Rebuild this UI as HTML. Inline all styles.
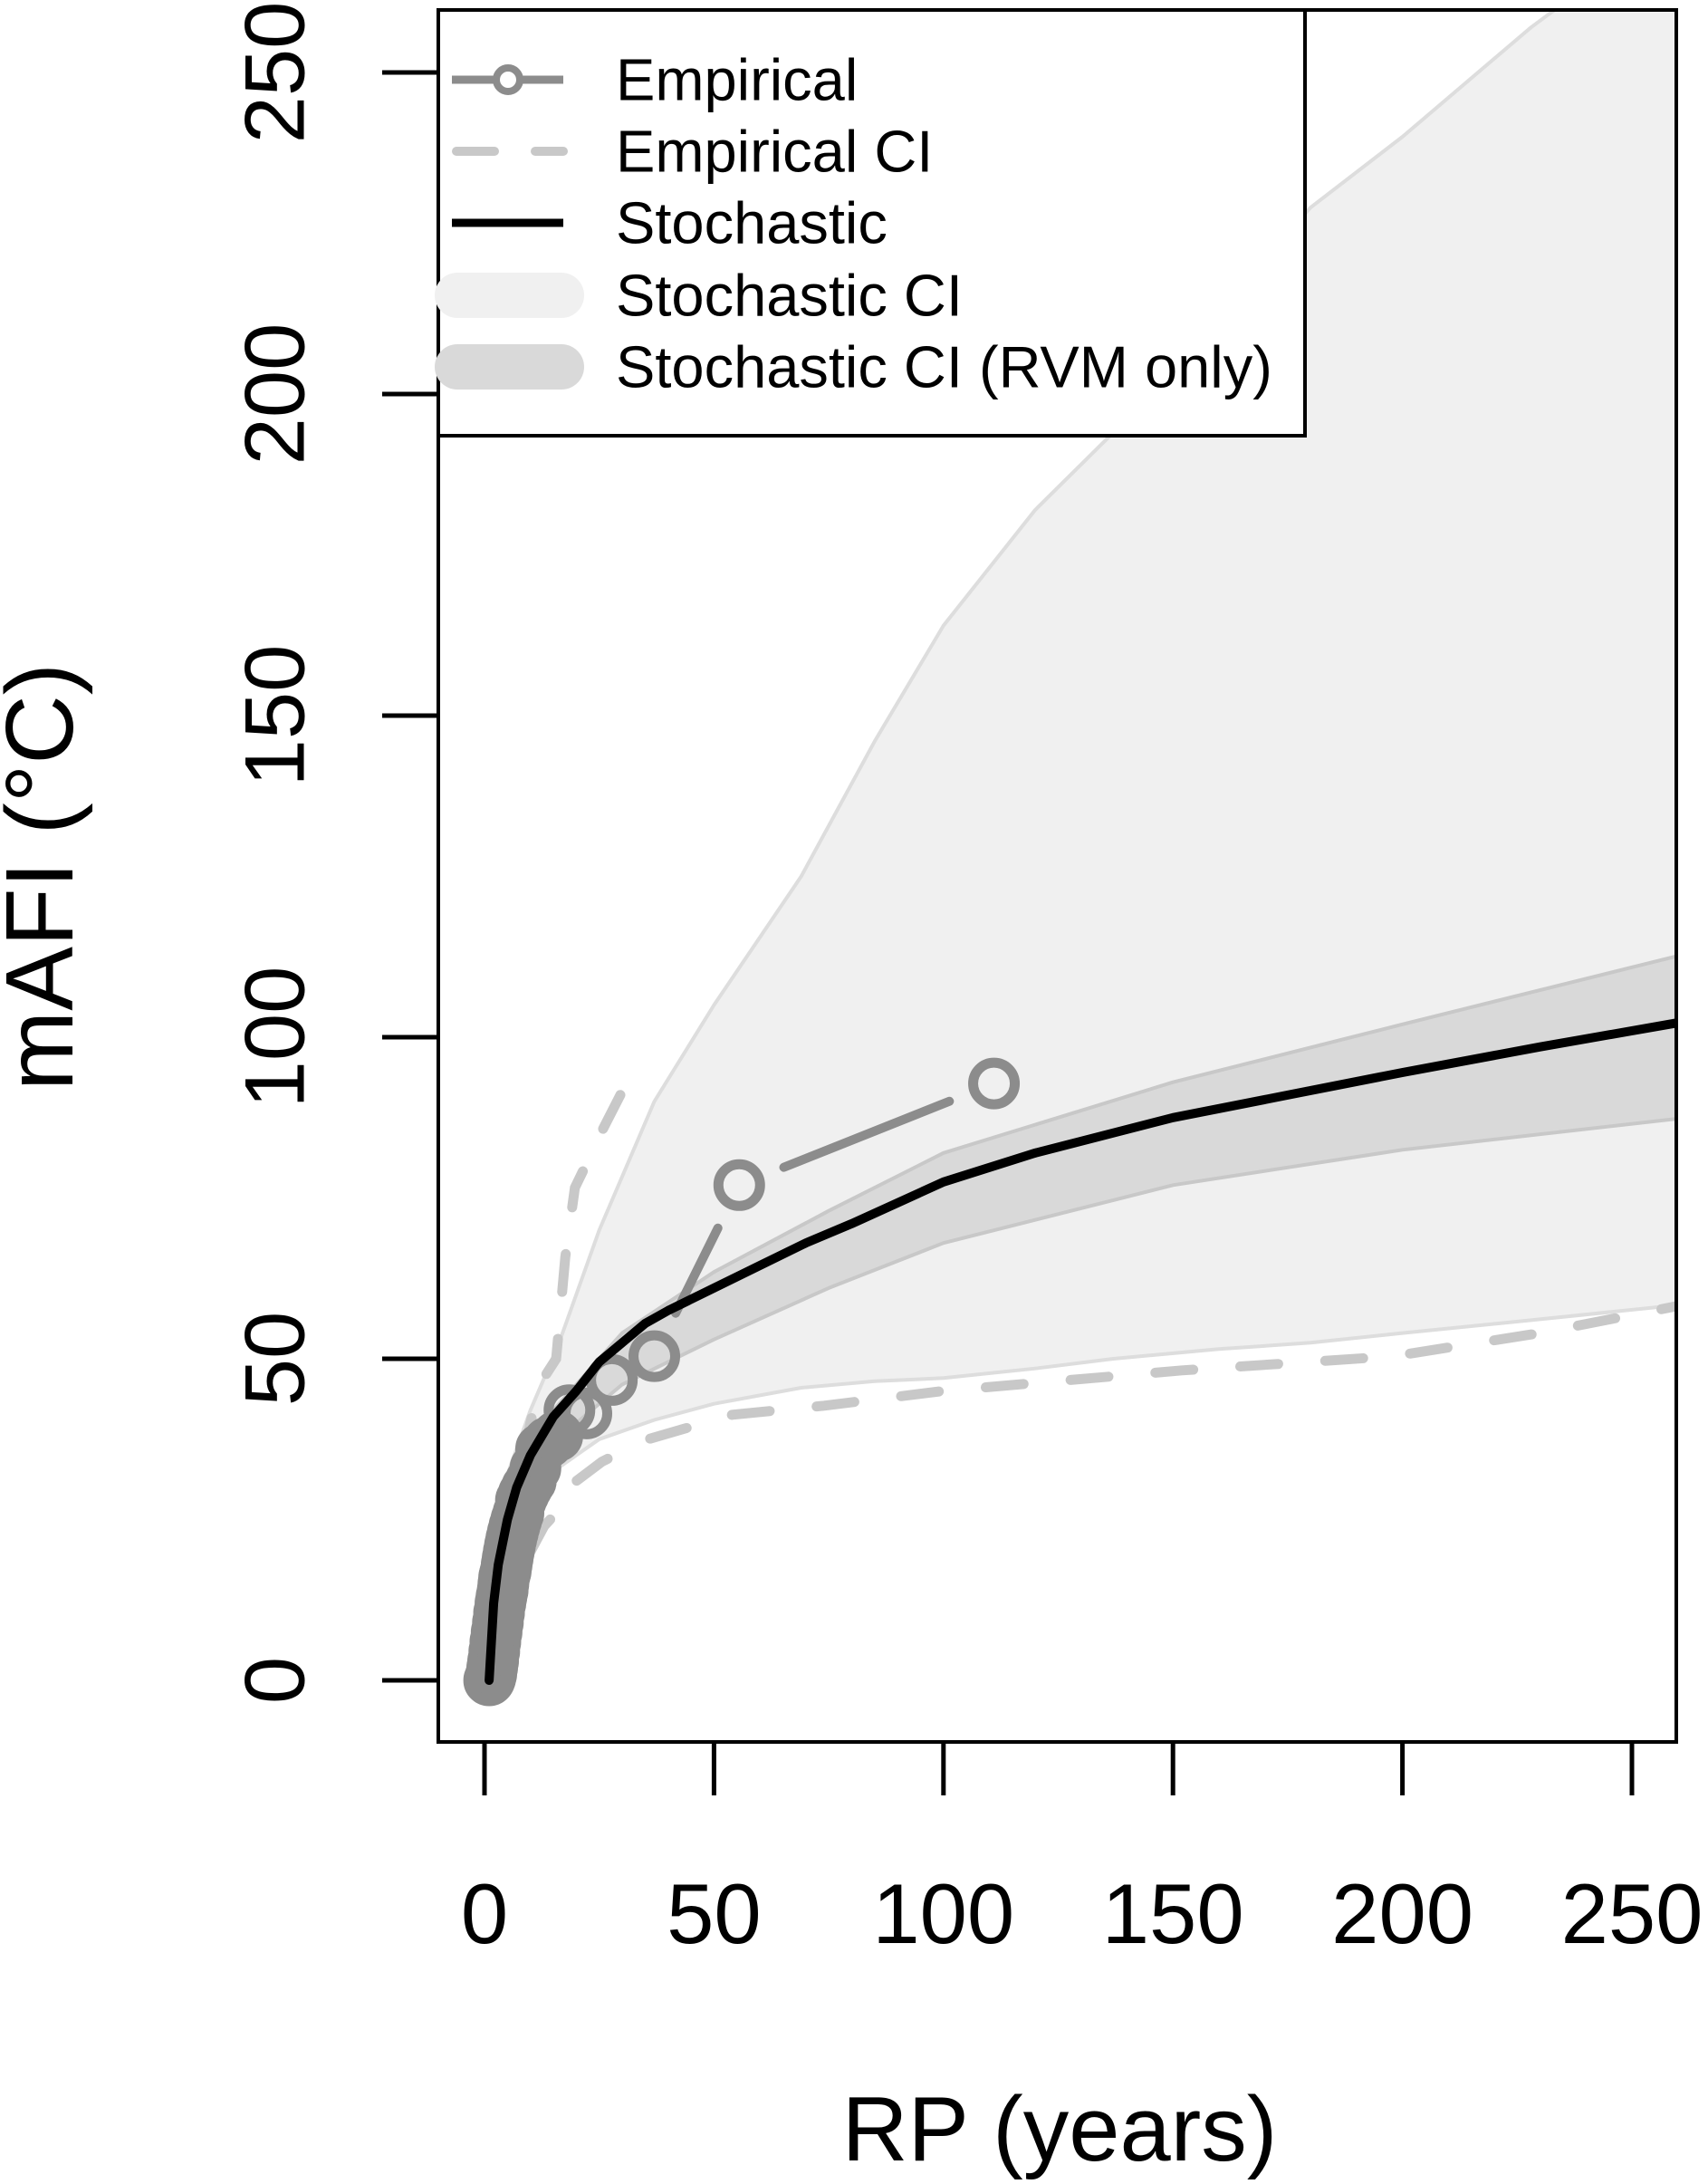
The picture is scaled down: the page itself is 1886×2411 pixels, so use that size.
<!DOCTYPE html>
<html><head><meta charset="utf-8"><style>
html,body{margin:0;padding:0;background:#fff}
svg{display:block}
text{font-family:"Liberation Sans",sans-serif}
</style></head><body>
<svg id="chart" width="1886" height="2411" viewBox="0 0 1886 2411">
<defs><clipPath id="plotclip"><rect x="484" y="11" width="1367" height="1912"/></clipPath></defs>
<g id="plot" clip-path="url(#plotclip)"></g>
<g id="axes"></g>
</svg>
<script>
const stochRP=[1,2,3,5,7,10,15,20,25,30,35,40,50,60,70,80,100,120,150,175,200,230,262];
const stochVal=[0,12,18,25,30,35,41,45,49.5,52.5,55.5,57.5,61,64.5,68,71,77.5,82,87.5,91,94.5,98.5,102.5];
const ciRP=[1,2,3,5,10,16,25,37,50,69,85,100,120,137,160,180,200,228,262];
const ciUpper=[0,14,22,32,42,52,70,90,105,125,146,164,182,194,213,229,240,257,275];
const ciLower=[0,9,13,20,28,33,37.5,40.5,43,45.5,46.5,47,48.5,50,51.5,52.5,54,56,58.5];
const rvmRP=[1,2,3,5,10,20,30,50,75,100,150,200,262];
const rvmUpper=[0,13,19,27,38,46,54,63.5,73,82,93,102,113];
const rvmLower=[0,11,17,23,32,40,46,53,61,68,77,82.5,87.5];
const empRP=[111,55.5,37,27.75,22.2,18.5,15.86,13.88,12.33,11.1,10.1,9.25,8.54,7.93,7.4,6.94,6.53,6.17,5.84,5.55,5.29,5.05,4.83,4.63,4.44,4.27,4.11,3.96,3.7,3.47,3.17,2.92,2.64,2.36,2.13,1.88,1.68,1.48,1.3,1.15,1.01];
const empVal=[92.8,77,50.4,46.7,41.5,42,38,37,36,33,31,30,29,28,26,25,24,23,22,21,20,19,18,17,16.5,16,15,14,13,12,10.5,9,7.5,6,4.5,3,2,1,0.5,0.2,0];
const empCiUpRP=[5,8,10,12,15.6,17.6,19.7,22,26,30.8];
const empCiUp=[22,32,40,46,50,65.8,76.6,80,86,92.7];
const empCiLoRP=[10,13,15.6,20,25.6,34.7,54,74,100,152,198,230,262];
const empCiLo=[20,24,26,31,34,37.3,41.3,42.7,45,48.2,50.4,54,58.5];
const xTicks=[0,50,100,150,200,250];
const yTicks=[0,50,100,150,200,250];

const NS="http://www.w3.org/2000/svg";
const X=v=>535+(v)*(1802-535)/250;
const Y=v=>1855-(v)*(1855-80)/250;
function mk(tag,attrs,parent){const e=document.createElementNS(NS,tag);for(const k in attrs)e.setAttribute(k,attrs[k]);parent.appendChild(e);return e;}
const plot=document.getElementById('plot'),axes=document.getElementById('axes'),svg=document.getElementById('chart');
function pts(xs,ys){return xs.map((x,i)=>X(x).toFixed(1)+','+Y(ys[i]).toFixed(1));}
function band(xs,up,lo,fill,edge,name){
  const p=pts(xs,up).concat(pts(xs,lo).reverse());
  const el=mk('polygon',{points:p.join(' '),fill:fill,stroke:edge,'stroke-width':4,'stroke-linejoin':'round'},plot);
  
  
}
band(ciRP,ciUpper,ciLower,'#f0f0f0','#dddddd','stochastic-ci-band');
band(rvmRP,rvmUpper,rvmLower,'#d9d9d9','#c8c8c8','stochastic-ci-rvm-band');
let l1=mk('polyline',{points:pts(empCiUpRP,empCiUp).join(' '),fill:'none',stroke:'#c8c8c8','stroke-width':11,'stroke-dasharray':'42 52','stroke-linecap':'round'},plot);


let l2=mk('polyline',{points:pts(empCiLoRP,empCiLo).join(' '),fill:'none',stroke:'#c8c8c8','stroke-width':11,'stroke-dasharray':'42 52','stroke-linecap':'round'},plot);


const denseRP=empRP.filter(r=>r<13),denseVal=empVal.filter((v,i)=>empRP[i]<13);
let bl=mk('polyline',{points:pts(denseRP,denseVal).join(' '),fill:'none',stroke:'#8c8c8c','stroke-width':44,'stroke-linecap':'round','stroke-linejoin':'round'},plot);


const R=23;
for(let i=0;i<empRP.length-1;i++){
  const x1=X(empRP[i]),y1=Y(empVal[i]),x2=X(empRP[i+1]),y2=Y(empVal[i+1]);
  const d=Math.hypot(x2-x1,y2-y1);
  if(d>2*R+40){const ux=(x2-x1)/d,uy=(y2-y1)/d,g=R+30;
    const s=mk('line',{x1:x1+ux*g,y1:y1+uy*g,x2:x2-ux*g,y2:y2-uy*g,stroke:'#8c8c8c','stroke-width':10,'stroke-linecap':'round'},plot);
    
    }
}
empRP.forEach((r,i)=>{
  const c=mk('circle',{cx:X(r),cy:Y(empVal[i]),r:R,fill:'none',stroke:'#8c8c8c','stroke-width':11},plot);
  
  
});
let sl=mk('polyline',{points:pts(stochRP,stochVal).join(' '),fill:'none',stroke:'#000','stroke-width':10,'stroke-linejoin':'round','stroke-linecap':'round'},plot);


let box=mk('rect',{x:484,y:11,width:1367,height:1912,fill:'none',stroke:'#000','stroke-width':4},axes);


yTicks.forEach(v=>{
  const t=mk('line',{x1:422,x2:484,y1:Y(v),y2:Y(v),stroke:'#000','stroke-width':5},axes);
  
  
  const tx=mk('text',{x:303,y:Y(v),'font-size':94,'text-anchor':'middle','dominant-baseline':'central',transform:`rotate(-90 303 ${Y(v)})`},axes);
  tx.textContent=v;
  
  
});
xTicks.forEach(v=>{
  const t=mk('line',{x1:X(v),x2:X(v),y1:1923,y2:1982,stroke:'#000','stroke-width':5},axes);
  
  
  const tx=mk('text',{x:X(v),y:2145,'font-size':94,'text-anchor':'middle'},axes);
  tx.textContent=v;
  
  
});
let xt=mk('text',{x:1170,y:2385,'font-size':101,'text-anchor':'middle'},axes);
xt.textContent='RP (years)';


let yt=mk('text',{x:80,y:968,'font-size':106,'text-anchor':'middle',transform:'rotate(-90 80 968)'},axes);
yt.textContent='mAFI (°C)';


const lg=mk('g',{},svg);


mk('rect',{x:484,y:11,width:957,height:470,fill:'#fff',stroke:'#000','stroke-width':4},lg);
const ly=[88,167,246,326,405];
const labels=['Empirical','Empirical CI','Stochastic','Stochastic CI','Stochastic CI (RVM only)'];
mk('line',{x1:499,x2:622,y1:ly[0],y2:ly[0],stroke:'#8c8c8c','stroke-width':9},lg);
mk('circle',{cx:561,cy:ly[0],r:13,fill:'#fff',stroke:'#8c8c8c','stroke-width':8},lg);
mk('line',{x1:504,x2:622,y1:ly[1],y2:ly[1],stroke:'#c8c8c8','stroke-width':10,'stroke-dasharray':'42 45','stroke-linecap':'round'},lg);
mk('line',{x1:499,x2:622,y1:ly[2],y2:ly[2],stroke:'#000','stroke-width':9},lg);
mk('line',{x1:505,x2:620,y1:ly[3],y2:ly[3],stroke:'#f0f0f0','stroke-width':50,'stroke-linecap':'round'},lg);
mk('line',{x1:505,x2:620,y1:ly[4],y2:ly[4],stroke:'#d9d9d9','stroke-width':50,'stroke-linecap':'round'},lg);
labels.forEach((s,i)=>{
  const t=mk('text',{x:680,y:ly[i],'font-size':65,'dominant-baseline':'central'},lg);
  t.textContent=s;
  
  
});
</script>
</body></html>
